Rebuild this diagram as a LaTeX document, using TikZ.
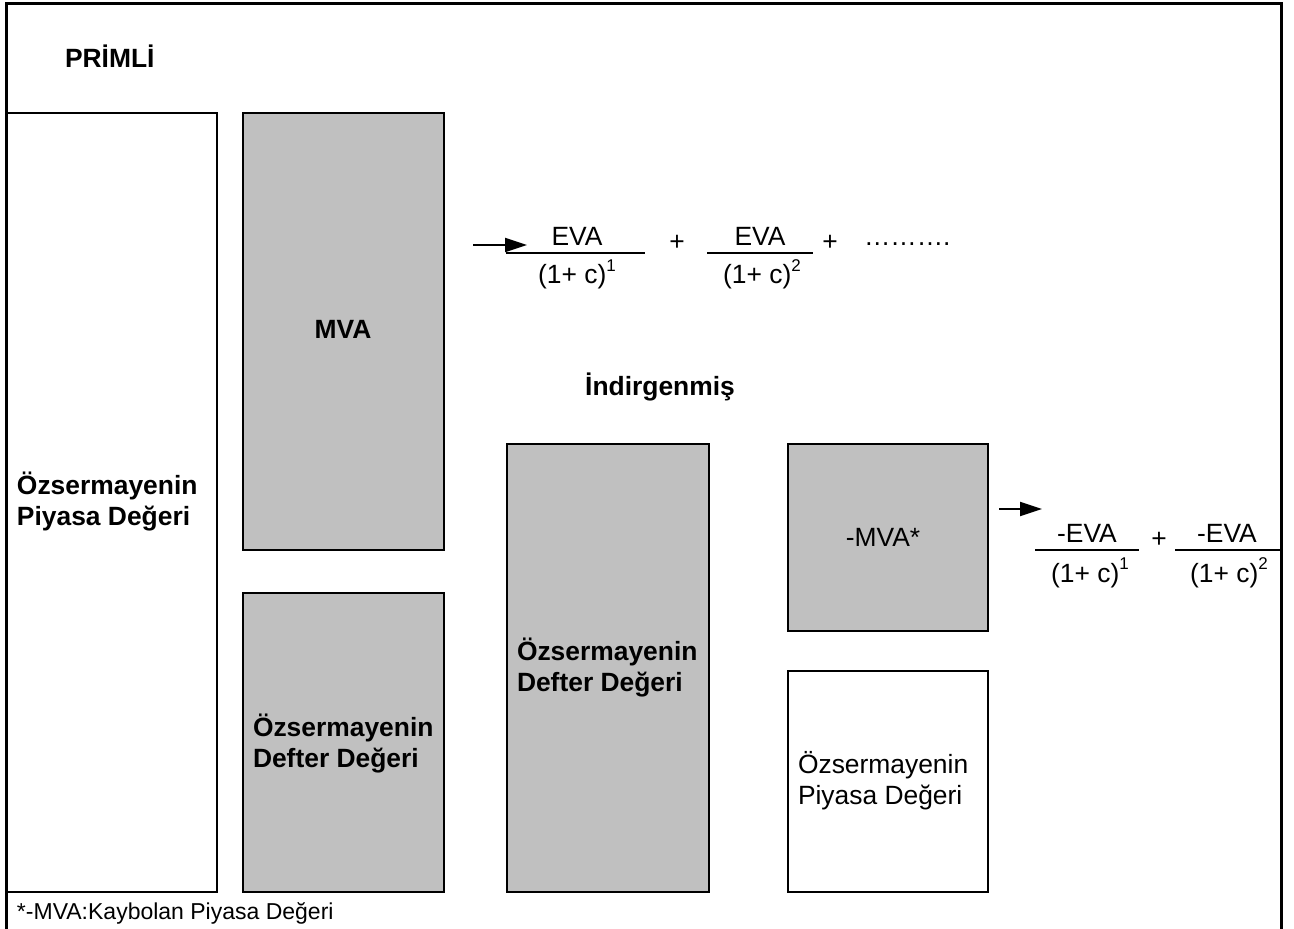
\documentclass[tikz,border=0pt]{standalone}
\usepackage{fontspec}
\setmainfont{Liberation Sans}
\usetikzlibrary{arrows.meta}
\definecolor{boxgray}{HTML}{C0C0C0}
\newcommand\supnum[1]{\raisebox{6pt}{\fontsize{8.5}{8.5}\selectfont #1}}
\begin{document}
\begin{tikzpicture}[x=0.5pt,y=-0.5pt,
  every node/.style={font=\fontsize{13.2}{16}\selectfont, inner sep=0pt, outer sep=0pt},
  box/.style={draw=black, line width=1.3pt, minimum width=#1, rectangle},
  graybox/.style={fill=boxgray},
  lbl/.style={anchor=base west, align=left},
  bold/.style={font=\fontsize{13.2}{16}\selectfont\bfseries},
  small/.style={font=\fontsize{11.5}{14}\selectfont},
  fracline/.style={line width=1pt},
  arr/.style={line width=1pt, -{Triangle[length=11pt,width=7pt]}},
  frame/.style={line width=1.5pt}
]
\useasboundingbox (0,0) rectangle (1294,929);
% outer frame (open at bottom)
\draw[frame] (6,929) -- (6,4) -- (1281,4) -- (1281,929);

% boxes
\node[box=105pt, minimum height=389.5pt] (lb) at (112,502.5) {};
\node[box=100.5pt, graybox, minimum height=218.5pt] (mva) at (343.5,331.5) {};
\node[box=100.5pt, graybox, minimum height=149.5pt] (ldb) at (343.5,742.5) {};
\node[box=101pt, graybox, minimum height=224pt] (mdb) at (608,668) {};
\node[box=100pt, graybox, minimum height=93.5pt] (nmva) at (888,537.5) {};
\node[box=100pt, minimum height=110.5pt] (pd) at (888,781.5) {};

% texts
\node[bold, anchor=base west] (primli) at (65,68) {PRİMLİ};
\node[bold, anchor=base] (indir) at (660,396) {İndirgenmiş};
\node[bold, anchor=base] (mvat) at (343,339) {MVA};
\node[bold, lbl] (lbt1) at (17,495) {Özsermayenin};
\node[bold, lbl] (lbt2) at (17,526) {Piyasa Değeri};
\node[bold, lbl] (ldbt1) at (253,736) {Özsermayenin};
\node[bold, lbl] (ldbt2) at (253,767) {Defter Değeri};
\node[bold, lbl] (mdbt1) at (517,660) {Özsermayenin};
\node[bold, lbl] (mdbt2) at (517,691) {Defter Değeri};
\node[anchor=base] (nmvat) at (883,547) {-MVA*};
\node[lbl] (pdt1) at (798,773) {Özsermayenin};
\node[lbl] (pdt2) at (798,804) {Piyasa Değeri};
\node[small, lbl] (foot) at (17,919) {*-MVA:Kaybolan Piyasa Değeri};

% upper formula
\coordinate (a1s) at (473,245);
\coordinate (a1e) at (527,245);
\draw[arr] (a1s) -- (a1e);
\coordinate (f1l) at (506,253);
\coordinate (f1r) at (645,253);
\draw[fracline] (f1l) -- (f1r);
\node[anchor=base] (n1) at (577,246) {EVA};
\node[anchor=base] (d1) at (577,284) {(1+ c)\supnum{1}};
\node (p1) at (677,243) {+};
\coordinate (f2l) at (707,253);
\coordinate (f2r) at (813,253);
\draw[fracline] (f2l) -- (f2r);
\node[anchor=base] (n2) at (760,246) {EVA};
\node[anchor=base] (d2) at (762,284) {(1+ c)\supnum{2}};
\node (p2) at (830,243) {+};
\node[anchor=base west] (dots) at (864,246) {……….};

% lower formula
\coordinate (a2s) at (999,509);
\coordinate (a2e) at (1042,509);
\draw[arr] (a2s) -- (a2e);
\coordinate (g1l) at (1035,550);
\coordinate (g1r) at (1139,550);
\draw[fracline] (g1l) -- (g1r);
\node[anchor=base] (m1) at (1087,543) {-EVA};
\node[anchor=base] (e1) at (1090,582) {(1+ c)\supnum{1}};
\node (q1) at (1159,540) {+};
\coordinate (g2l) at (1175,550);
\coordinate (g2r) at (1281,550);
\draw[fracline] (g2l) -- (g2r);
\node[anchor=base] (m2) at (1227,543) {-EVA};
\node[anchor=base] (e2) at (1229,582) {(1+ c)\supnum{2}};
\end{tikzpicture}
\end{document}
